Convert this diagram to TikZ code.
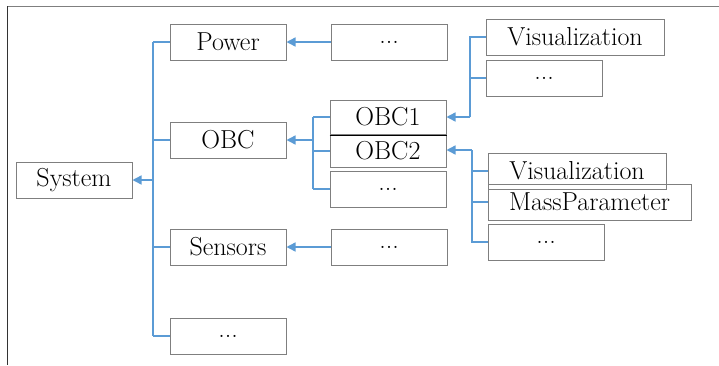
\documentclass[tikz,border=0pt]{standalone}
\usetikzlibrary{arrows.meta,positioning,calc}
\definecolor{linkblue}{HTML}{5B9BD5}
\definecolor{boxgray}{HTML}{7F7F7F}
\tikzset{
  box/.style     = {draw=boxgray, line width=1pt, rectangle, inner sep=0pt,
                    minimum width=116pt, minimum height=36pt,
                    font=\fontsize{26}{30}\selectfont},
  wide/.style    = {box, minimum width=#1},
  link/.style    = {draw=linkblue, line width=1.4pt},
  post/.style    = {link, -{Triangle[length=9pt,width=9pt]}}
}
\begin{document}
\begin{tikzpicture}[x=1pt,y=-1pt]
    \useasboundingbox (0,0) rectangle (719,365);
    % frame
    \draw[boxgray, line width=1pt] (7,6) -- (719,6);
    \draw[black!80, line width=1pt] (7,6) -- (7,365);
    % first level
    \node[box] (system)  at (74,180)  {System};
    \node[box] (power)   at (228,42)  {Power};
    \node[box] (obc)     at (228,140) {OBC};
    \node[box] (sensors) at (228,247) {Sensors};
    \node[box] (sysdots) at (228,336) {...};
    % second level
    \node[box] (powdots)  [right=44pt of power]   {...};
    \node[box, minimum height=34pt] (obc1) at (388,117) {OBC1};
    \node[box, minimum height=32pt] (obc2) at (388,151) {OBC2};
    \draw[black, line width=0.6pt] ($(obc2.north west)+(0,1)$) -- ($(obc2.north east)+(0,1)$);
    \node[box] (obcdots)  at (388,189) {...};
    \node[box] (sensdots) [right=44pt of sensors] {...};
    % third level
    \node[wide=178pt] (vis1)     at (575,37)  {Visualization};
    \node[box]        (vis1dots) at (544,78)  {...};
    \node[wide=178pt] (vis2)     at (577,171) {Visualization};
    \node[wide=203pt] (mass)     at (589.5,202) {MassParameter};
    \node[box]        (vis2dots) at (546,242) {...};
    % branch lines
    \coordinate (trunk) at (153,0);
    \coordinate (obcbr) at (313,0);
    \coordinate (visbr) at (470,0);
    \coordinate (masbr) at (472,0);
    \draw[link] (power.west -| trunk) -- (sysdots.west -| trunk);
    \foreach \n in {power,obc,sensors,sysdots}
      \draw[link] (\n.west) -- (\n.west -| trunk);
    \draw[post] (system.east -| trunk) -- (system.east);
    \draw[post] (powdots) -- (power);
    \draw[post] (sensdots) -- (sensors);
    \draw[link] (obc1.west -| obcbr) -- (obcdots.west -| obcbr);
    \foreach \n in {obc1,obc2,obcdots}
      \draw[link] (\n.west) -- (\n.west -| obcbr);
    \draw[post] (obc.east -| obcbr) -- (obc.east);
    \draw[link] (vis1.west) -| (visbr |- obc1.east);
    \draw[link] (vis1dots.west) -- (vis1dots.west -| visbr);
    \draw[post] (obc1.east -| visbr) -- (obc1.east);
    \draw[link] ($(obc2.east -| masbr)+(0,-1)$) -- (vis2dots.west -| masbr) -- (vis2dots.west);
    \draw[link] (vis2.west) -- (vis2.west -| masbr);
    \draw[link] (mass.west) -- (mass.west -| masbr);
    \draw[post] ($(obc2.east -| masbr)+(0,-1)$) -- ($(obc2.east)+(0,-1)$);
\end{tikzpicture}
\end{document}
